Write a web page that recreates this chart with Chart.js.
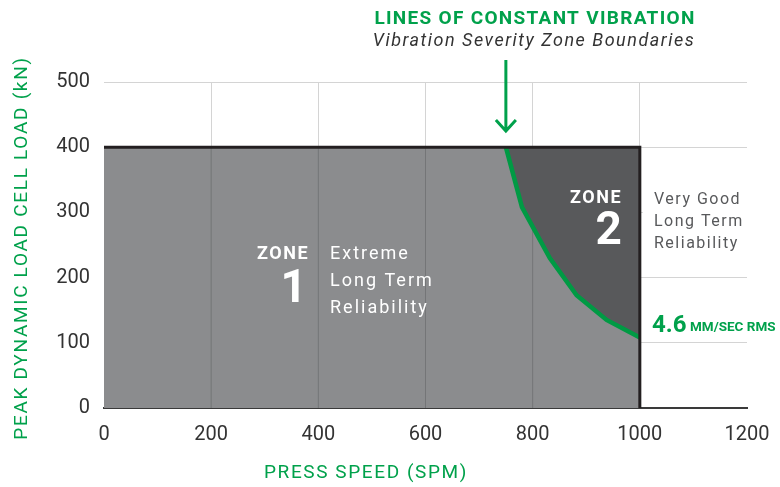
<!DOCTYPE html>
<html>
<head>
<meta charset="utf-8">
<script src="https://cdn.jsdelivr.net/npm/chart.js@4.4.1/dist/chart.umd.min.js"></script>
<style>
html, body { margin: 0; padding: 0; background: #fff; }
</style>
</head>
<body>
<canvas id="chart" width="780" height="487"></canvas>
<script>
const xTicks = [0, 200, 400, 600, 800, 1000, 1200];
const yTicks = [0, 100, 200, 300, 400, 500];
const zoneEdgeX = [0, 1000, 1000];
const zoneEdgeY = [400, 400, 0];
const zoneGridX = [200, 400, 600, 800];
const vibSpeed = [750, 780, 832, 882, 938, 1000];
const vibLoad = [400, 308, 230, 173, 135, 108];

const GREEN = '#00a14b';
const FONT = 'Roboto, "DejaVu Sans", sans-serif';

const zoneEdge = zoneEdgeX.map((x, i) => ({ x, y: zoneEdgeY[i] }));
const vibLine = vibSpeed.map((x, i) => ({ x, y: vibLoad[i] }));

const gridSets = zoneGridX.map(x => ({
    data: [{ x, y: 0 }, { x, y: zoneEdgeY[0] }],
    showLine: true,
    borderColor: '#747577',
    borderWidth: 1,
    pointRadius: 0,
    fill: false
}));

function txt(ctx, s, x, y, font, color, align, spacing) {
    ctx.font = font;
    ctx.fillStyle = color;
    ctx.textAlign = align || 'left';
    ctx.textBaseline = 'middle';
    ctx.letterSpacing = spacing || '0px';
    ctx.fillText(s, x, y);
    ctx.letterSpacing = '0px';
}

const labels = {
    id: 'labels',
    afterDraw(chart) {
        const ctx = chart.ctx;
        const xs = chart.scales.x;
        ctx.save();

        // axis titles
        ctx.save();
        ctx.translate(22, 248);
        ctx.rotate(-Math.PI / 2);
        txt(ctx, 'PEAK DYNAMIC LOAD CELL LOAD (kN)', 0, 0, '19px ' + FONT, GREEN, 'center', '1.7px');
        ctx.restore();
        txt(ctx, 'PRESS SPEED (SPM)', 366, 473, '19px ' + FONT, GREEN, 'center', '1.6px');

        // header + arrow
        txt(ctx, 'LINES OF CONSTANT VIBRATION', 535, 19, 'bold 19px ' + FONT, GREEN, 'center', '1.3px');
        txt(ctx, 'Vibration Severity Zone Boundaries', 534, 41, 'italic 18px ' + FONT, '#333', 'center', '1.5px');
        const ax = xs.getPixelForValue(vibSpeed[0]);
        ctx.strokeStyle = GREEN;
        ctx.lineWidth = 3;
        ctx.beginPath();
        ctx.moveTo(ax, 60);
        ctx.lineTo(ax, 130);
        ctx.moveTo(ax - 10, 120);
        ctx.lineTo(ax, 131);
        ctx.lineTo(ax + 10, 120);
        ctx.stroke();

        // zone 1
        txt(ctx, 'ZONE', 309, 254, 'bold 18px ' + FONT, '#fff', 'right', '1.5px');
        txt(ctx, '1', 307, 290, 'bold 46px ' + FONT, '#fff', 'right');
        ['Extreme', 'Long Term', 'Reliability'].forEach((s, i) => {
            txt(ctx, s, 330, 254 + i * 27, '18px ' + FONT, '#fff', 'left', '2px');
        });

        // zone 2
        txt(ctx, 'ZONE', 622, 198, 'bold 18px ' + FONT, '#fff', 'right', '1.5px');
        txt(ctx, '2', 622, 232, 'bold 46px ' + FONT, '#fff', 'right');
        const rx = xs.getPixelForValue(zoneEdgeX[1]);
        ctx.fillStyle = '#fff';
        ctx.fillRect(rx + 3, 188, xs.right - rx - 3, 66);
        ['Very Good', 'Long Term', 'Reliability'].forEach((s, i) => {
            txt(ctx, s, 654, 200 + i * 22, '16px ' + FONT, '#58595b', 'left', '1.5px');
        });

        // rms label
        txt(ctx, '4.6', 652, 326, 'bold 24px ' + FONT, GREEN, 'left');
        txt(ctx, 'MM/SEC RMS', 690, 328, 'bold 13.5px ' + FONT, GREEN, 'left');

        ctx.restore();
    }
};

new Chart(document.getElementById('chart'), {
    type: 'scatter',
    data: {
        datasets: [
            {
                data: zoneEdge,
                showLine: true,
                borderColor: '#231f20',
                borderWidth: 3,
                pointRadius: 0,
                fill: false
            },
            {
                data: vibLine,
                showLine: true,
                borderColor: '#009a44',
                borderWidth: 4.5,
                pointRadius: 0,
                fill: { value: zoneEdgeY[0] },
                backgroundColor: '#58595b'
            },
            ...gridSets,
            {
                data: zoneEdge,
                showLine: true,
                borderWidth: 0,
                borderColor: 'rgba(0,0,0,0)',
                pointRadius: 0,
                fill: 'origin',
                backgroundColor: '#8b8c8e'
            }
        ]
    },
    options: {
        responsive: false,
        animation: false,
        layout: { padding: { top: 82, right: 33, left: 0, bottom: 0 } },
        plugins: {
            legend: { display: false },
            tooltip: { enabled: false }
        },
        scales: {
            x: {
                type: 'linear',
                min: 0,
                max: 1200,
                afterBuildTicks: s => { s.ticks = xTicks.map(v => ({ value: v })); },
                afterFit: s => { s.height = 79; s.paddingLeft = 0; s.paddingRight = 0; },
                ticks: {
                    color: '#333',
                    font: { family: FONT, size: 20 },
                    padding: 15,
                    maxRotation: 0,
                    callback: v => String(v)
                },
                grid: {
                    drawTicks: false,
                    color: c => (c.tick.value === 0 || c.tick.value === 1200) ? 'rgba(0,0,0,0)' : '#d4d4d4'
                },
                border: { color: '#3a3a3a', width: 2 }
            },
            y: {
                type: 'linear',
                min: 0,
                max: 500,
                afterBuildTicks: s => { s.ticks = yTicks.map(v => ({ value: v })); },
                afterFit: s => { s.width = 104; s.paddingTop = 0; s.paddingBottom = 0; },
                ticks: {
                    color: '#333',
                    font: { family: FONT, size: 20 },
                    padding: 14,
                    callback: v => String(v)
                },
                grid: {
                    drawTicks: false,
                    color: c => c.tick.value === 0 ? 'rgba(0,0,0,0)' : '#d4d4d4'
                },
                border: { display: false }
            }
        }
    },
    plugins: [labels]
});
</script>
</body>
</html>
